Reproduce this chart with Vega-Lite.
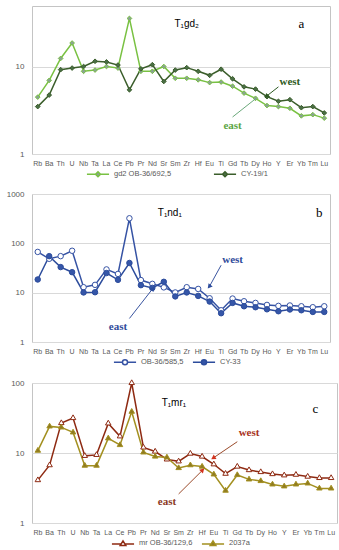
{
"$schema": "https://vega.github.io/schema/vega-lite/v6.json",
"padding": {"left": 5, "top": 5, "right": 5, "bottom": 2},
"spacing": 8,
"config": {
  "font": "Liberation Sans",
  "view": {"stroke": "#c4c4c4"},
  "axis": {"labelColor": "#595959", "labelFont": "Liberation Sans", "grid": false, "ticks": false, "domain": false},
  "legend": {"labelColor": "#595959", "labelFont": "Liberation Sans", "labelFontSize": 7.5, "orient": "bottom", "direction": "horizontal", "offset": 4, "symbolSize": 40, "symbolStrokeWidth": 1.5, "labelOffset": 12, "layout": {"bottom": {"anchor": "middle"}}}
},
"datasets": {
  "a": [
    {"e":"Rb","s":"gd2 OB-36/692,5","v":4.5},{"e":"Ba","s":"gd2 OB-36/692,5","v":7.0},{"e":"Th","s":"gd2 OB-36/692,5","v":12.5},{"e":"U","s":"gd2 OB-36/692,5","v":18.8},{"e":"Nb","s":"gd2 OB-36/692,5","v":8.9},{"e":"Ta","s":"gd2 OB-36/692,5","v":9.2},{"e":"La","s":"gd2 OB-36/692,5","v":10.1},{"e":"Ce","s":"gd2 OB-36/692,5","v":9.7},{"e":"Pb","s":"gd2 OB-36/692,5","v":36},{"e":"Pr","s":"gd2 OB-36/692,5","v":8.9},{"e":"Nd","s":"gd2 OB-36/692,5","v":8.9},{"e":"Sr","s":"gd2 OB-36/692,5","v":10.1},{"e":"Sm","s":"gd2 OB-36/692,5","v":7.4},{"e":"Zr","s":"gd2 OB-36/692,5","v":7.4},{"e":"Hf","s":"gd2 OB-36/692,5","v":7.1},{"e":"Eu","s":"gd2 OB-36/692,5","v":6.6},{"e":"Ti","s":"gd2 OB-36/692,5","v":6.7},{"e":"Gd","s":"gd2 OB-36/692,5","v":6.0},{"e":"Tb","s":"gd2 OB-36/692,5","v":5.0},{"e":"Dy","s":"gd2 OB-36/692,5","v":4.36},{"e":"Ho","s":"gd2 OB-36/692,5","v":3.6},{"e":"Y","s":"gd2 OB-36/692,5","v":3.5},{"e":"Er","s":"gd2 OB-36/692,5","v":3.35},{"e":"Yb","s":"gd2 OB-36/692,5","v":2.74},{"e":"Tm","s":"gd2 OB-36/692,5","v":2.83},{"e":"Lu","s":"gd2 OB-36/692,5","v":2.58},
    {"e":"Rb","s":"CY-19/1","v":3.5},{"e":"Ba","s":"CY-19/1","v":4.75},{"e":"Th","s":"CY-19/1","v":9.3},{"e":"U","s":"CY-19/1","v":9.7},{"e":"Nb","s":"CY-19/1","v":10.1},{"e":"Ta","s":"CY-19/1","v":11.6},{"e":"La","s":"CY-19/1","v":11.4},{"e":"Ce","s":"CY-19/1","v":10.5},{"e":"Pb","s":"CY-19/1","v":5.46},{"e":"Pr","s":"CY-19/1","v":9.5},{"e":"Nd","s":"CY-19/1","v":10.6},{"e":"Sr","s":"CY-19/1","v":6.8},{"e":"Sm","s":"CY-19/1","v":9.2},{"e":"Zr","s":"CY-19/1","v":9.8},{"e":"Hf","s":"CY-19/1","v":8.9},{"e":"Eu","s":"CY-19/1","v":8.0},{"e":"Ti","s":"CY-19/1","v":9.4},{"e":"Gd","s":"CY-19/1","v":7.3},{"e":"Tb","s":"CY-19/1","v":5.9},{"e":"Dy","s":"CY-19/1","v":5.56},{"e":"Ho","s":"CY-19/1","v":4.55},{"e":"Y","s":"CY-19/1","v":4.03},{"e":"Er","s":"CY-19/1","v":4.2},{"e":"Yb","s":"CY-19/1","v":3.4},{"e":"Tm","s":"CY-19/1","v":3.5},{"e":"Lu","s":"CY-19/1","v":2.96}
  ],
  "b": [
    {"e":"Rb","s":"OB-36/585,5","v":67},{"e":"Ba","s":"OB-36/585,5","v":48.6},{"e":"Th","s":"OB-36/585,5","v":55},{"e":"U","s":"OB-36/585,5","v":70.7},{"e":"Nb","s":"OB-36/585,5","v":12.9},{"e":"Ta","s":"OB-36/585,5","v":14.4},{"e":"La","s":"OB-36/585,5","v":29.6},{"e":"Ce","s":"OB-36/585,5","v":24},{"e":"Pb","s":"OB-36/585,5","v":322},{"e":"Pr","s":"OB-36/585,5","v":18},{"e":"Nd","s":"OB-36/585,5","v":15.1},{"e":"Sr","s":"OB-36/585,5","v":12.8},{"e":"Sm","s":"OB-36/585,5","v":10.1},{"e":"Zr","s":"OB-36/585,5","v":12.9},{"e":"Hf","s":"OB-36/585,5","v":11.9},{"e":"Eu","s":"OB-36/585,5","v":7.7},{"e":"Ti","s":"OB-36/585,5","v":4.4},{"e":"Gd","s":"OB-36/585,5","v":7.6},{"e":"Tb","s":"OB-36/585,5","v":6.7},{"e":"Dy","s":"OB-36/585,5","v":6.2},{"e":"Ho","s":"OB-36/585,5","v":5.65},{"e":"Y","s":"OB-36/585,5","v":5.4},{"e":"Er","s":"OB-36/585,5","v":5.5},{"e":"Yb","s":"OB-36/585,5","v":5.3},{"e":"Tm","s":"OB-36/585,5","v":5.07},{"e":"Lu","s":"OB-36/585,5","v":5.3},
    {"e":"Rb","s":"CY-33","v":18.5},{"e":"Ba","s":"CY-33","v":55},{"e":"Th","s":"CY-33","v":33},{"e":"U","s":"CY-33","v":26},{"e":"Nb","s":"CY-33","v":10.1},{"e":"Ta","s":"CY-33","v":10.2},{"e":"La","s":"CY-33","v":25},{"e":"Ce","s":"CY-33","v":18.2},{"e":"Pb","s":"CY-33","v":40},{"e":"Pr","s":"CY-33","v":14.2},{"e":"Nd","s":"CY-33","v":12.5},{"e":"Sr","s":"CY-33","v":16.6},{"e":"Sm","s":"CY-33","v":8.4},{"e":"Zr","s":"CY-33","v":10.1},{"e":"Hf","s":"CY-33","v":8.6},{"e":"Eu","s":"CY-33","v":6.6},{"e":"Ti","s":"CY-33","v":3.83},{"e":"Gd","s":"CY-33","v":6.2},{"e":"Tb","s":"CY-33","v":5.3},{"e":"Dy","s":"CY-33","v":5.07},{"e":"Ho","s":"CY-33","v":4.6},{"e":"Y","s":"CY-33","v":4.2},{"e":"Er","s":"CY-33","v":4.56},{"e":"Yb","s":"CY-33","v":4.4},{"e":"Tm","s":"CY-33","v":4.07},{"e":"Lu","s":"CY-33","v":4.07}
  ],
  "c": [
    {"e":"Rb","s":"mr OB-36/129,6","v":4.1},{"e":"Ba","s":"mr OB-36/129,6","v":6.7},{"e":"Th","s":"mr OB-36/129,6","v":26.8},{"e":"U","s":"mr OB-36/129,6","v":31.6},{"e":"Nb","s":"mr OB-36/129,6","v":9.1},{"e":"Ta","s":"mr OB-36/129,6","v":9.4},{"e":"La","s":"mr OB-36/129,6","v":26.5},{"e":"Ce","s":"mr OB-36/129,6","v":17.3},{"e":"Pb","s":"mr OB-36/129,6","v":100},{"e":"Pr","s":"mr OB-36/129,6","v":12},{"e":"Nd","s":"mr OB-36/129,6","v":10.5},{"e":"Sr","s":"mr OB-36/129,6","v":8.1},{"e":"Sm","s":"mr OB-36/129,6","v":7.6},{"e":"Zr","s":"mr OB-36/129,6","v":9.8},{"e":"Hf","s":"mr OB-36/129,6","v":8.9},{"e":"Eu","s":"mr OB-36/129,6","v":6.9},{"e":"Ti","s":"mr OB-36/129,6","v":5.06},{"e":"Gd","s":"mr OB-36/129,6","v":6.4},{"e":"Tb","s":"mr OB-36/129,6","v":5.7},{"e":"Dy","s":"mr OB-36/129,6","v":5.35},{"e":"Ho","s":"mr OB-36/129,6","v":5.0},{"e":"Y","s":"mr OB-36/129,6","v":4.8},{"e":"Er","s":"mr OB-36/129,6","v":4.9},{"e":"Yb","s":"mr OB-36/129,6","v":4.6},{"e":"Tm","s":"mr OB-36/129,6","v":4.4},{"e":"Lu","s":"mr OB-36/129,6","v":4.4},
    {"e":"Rb","s":"2037a","v":10.8},{"e":"Ba","s":"2037a","v":24},{"e":"Th","s":"2037a","v":23.2},{"e":"U","s":"2037a","v":19.7},{"e":"Nb","s":"2037a","v":6.6},{"e":"Ta","s":"2037a","v":6.6},{"e":"La","s":"2037a","v":16.2},{"e":"Ce","s":"2037a","v":13},{"e":"Pb","s":"2037a","v":38.9},{"e":"Pr","s":"2037a","v":10.2},{"e":"Nd","s":"2037a","v":8.9},{"e":"Sr","s":"2037a","v":8.65},{"e":"Sm","s":"2037a","v":6.1},{"e":"Zr","s":"2037a","v":6.7},{"e":"Hf","s":"2037a","v":6.4},{"e":"Eu","s":"2037a","v":4.95},{"e":"Ti","s":"2037a","v":2.9},{"e":"Gd","s":"2037a","v":4.85},{"e":"Tb","s":"2037a","v":4.2},{"e":"Dy","s":"2037a","v":3.98},{"e":"Ho","s":"2037a","v":3.56},{"e":"Y","s":"2037a","v":3.34},{"e":"Er","s":"2037a","v":3.56},{"e":"Yb","s":"2037a","v":3.68},{"e":"Tm","s":"2037a","v":3.12},{"e":"Lu","s":"2037a","v":3.12}
  ]
},
"resolve": {"scale": {"x": "independent", "y": "independent", "stroke": "independent", "fill": "independent"}, "legend": {"stroke": "independent", "fill": "independent"}},
"vconcat": [
{
  "width": 298, "height": 148,
  "encoding": {
    "x": {"field": "e", "type": "ordinal", "scale": {"domain": ["Rb","Ba","Th","U","Nb","Ta","La","Ce","Pb","Pr","Nd","Sr","Sm","Zr","Hf","Eu","Ti","Gd","Tb","Dy","Ho","Y","Er","Yb","Tm","Lu"]}, "axis": {"title": null, "labelAngle": 0, "labelPadding": 5, "labelFontSize": 7, "labelOverlap": false}},
    "y": {"field": "v", "type": "quantitative", "scale": {"type": "log", "domain": [1, 50], "nice": false}, "axis": {"title": null, "values": [1, 10], "format": "d", "grid": true, "gridColor": "#d9d9d9", "labelFontSize": 8, "labelPadding": 8}}
  },
  "layer": [
    {"data": {"name": "a"}, "mark": {"type": "line", "strokeWidth": 1.5},
     "encoding": {"stroke": {"field": "s", "type": "nominal", "scale": {"domain": ["gd2 OB-36/692,5", "CY-19/1"], "range": ["#79c142", "#3b5e2b"]},
       "legend": {"title": null, "symbolType": "M-3.5,0H-0.8M0.8,0H3.5M0,-0.8L0.8,0L0,0.8L-0.8,0Z", "columnPadding": 38}}}},
    {"data": {"name": "a"}, "mark": {"type": "point", "shape": "diamond", "size": 22, "filled": true, "opacity": 1, "strokeWidth": 1},
     "encoding": {
       "stroke": {"field": "s", "type": "nominal", "scale": {"domain": ["gd2 OB-36/692,5", "CY-19/1"], "range": ["#79c142", "#3b5e2b"]},
         "legend": {"title": null, "symbolType": "M-3.5,0H-0.8M0.8,0H3.5M0,-0.8L0.8,0L0,0.8L-0.8,0Z", "columnPadding": 38}},
       "fill": {"field": "s", "type": "nominal", "scale": {"domain": ["gd2 OB-36/692,5", "CY-19/1"], "range": ["#8aa294", "#4a6e46"]},
         "legend": {"title": null, "symbolType": "M-3.5,0H-0.8M0.8,0H3.5M0,-0.8L0.8,0L0,0.8L-0.8,0Z", "columnPadding": 38}}}},
    {"data": {"values": [{"t": "west", "e": "Y", "v": 5.9, "e2": "Ho", "v2": 4.65}, {"t": "east", "e": "Gd", "v": 2.66, "e2": "Dy", "v2": 4.3}]},
     "mark": {"type": "rule", "strokeWidth": 1},
     "encoding": {"x2": {"field": "e2"}, "y2": {"field": "v2"}, "color": {"condition": {"test": "datum.t === 'west'", "value": "#2e5a22"}, "value": "#6aa87a"}}},
    {"data": {"values": [{"t": "west", "e": "Ho", "v": 4.65}]},
     "mark": {"type": "point", "shape": "triangle", "filled": true, "size": 28, "opacity": 1, "color": "#2e5a22", "angle": 225}},
    {"data": {"values": [{"t": "west", "e": "Er", "v": 6.7}, {"t": "east", "e": "Gd", "v": 2.1}]},
     "mark": {"type": "text", "font": "Liberation Serif", "fontWeight": "bold", "fontSize": 11},
     "encoding": {"text": {"field": "t"}, "color": {"condition": {"test": "datum.t === 'west'", "value": "#2e5a22"}, "value": "#5aa544"}}},
    {"data": {"values": [{"t": "T₁gd₂", "e": "Zr", "v": 30.7}]},
     "mark": {"type": "text", "fontSize": 10, "color": "#000000"}, "encoding": {"text": {"field": "t"}}},
    {"data": {"values": [{"t": "a", "e": "Yb", "v": 30.7}]},
     "mark": {"type": "text", "font": "Liberation Serif", "fontSize": 13, "color": "#000000"}, "encoding": {"text": {"field": "t"}}}
  ]
},
{
  "width": 298, "height": 148,
  "encoding": {
    "x": {"field": "e", "type": "ordinal", "scale": {"domain": ["Rb","Ba","Th","U","Nb","Ta","La","Ce","Pb","Pr","Nd","Sr","Sm","Zr","Hf","Eu","Ti","Gd","Tb","Dy","Ho","Y","Er","Yb","Tm","Lu"]}, "axis": {"title": null, "labelAngle": 0, "labelPadding": 5, "labelFontSize": 7, "labelOverlap": false}},
    "y": {"field": "v", "type": "quantitative", "scale": {"type": "log", "domain": [1, 1000], "nice": false}, "axis": {"title": null, "values": [1, 10, 100, 1000], "format": "d", "grid": true, "gridColor": "#d9d9d9", "labelFontSize": 8, "labelPadding": 8}}
  },
  "layer": [
    {"data": {"name": "b"}, "mark": {"type": "line", "strokeWidth": 1.5},
     "encoding": {"stroke": {"field": "s", "type": "nominal", "scale": {"domain": ["OB-36/585,5", "CY-33"], "range": ["#3653a4", "#2c4c9c"]},
       "legend": {"title": null, "symbolType": "M-3.5,0H-0.8M0.8,0H3.5M-0.8,0A0.8,0.8 0 1,0 0.8,0A0.8,0.8 0 1,0 -0.8,0Z", "columnPadding": 5}}}},
    {"data": {"name": "b"}, "mark": {"type": "point", "shape": "circle", "size": 30, "filled": true, "opacity": 1, "strokeWidth": 1},
     "encoding": {
       "stroke": {"field": "s", "type": "nominal", "scale": {"domain": ["OB-36/585,5", "CY-33"], "range": ["#3653a4", "#2c4c9c"]},
         "legend": {"title": null, "symbolType": "M-3.5,0H-0.8M0.8,0H3.5M-0.8,0A0.8,0.8 0 1,0 0.8,0A0.8,0.8 0 1,0 -0.8,0Z", "columnPadding": 5}},
       "fill": {"field": "s", "type": "nominal", "scale": {"domain": ["OB-36/585,5", "CY-33"], "range": ["#ffffff", "#3556a8"]},
         "legend": {"title": null, "symbolType": "M-3.5,0H-0.8M0.8,0H3.5M-0.8,0A0.8,0.8 0 1,0 0.8,0A0.8,0.8 0 1,0 -0.8,0Z", "columnPadding": 5}}}},
    {"data": {"values": [{"t": "west", "e": "Ti", "v": 36, "e2": "Eu", "v2": 13.6}, {"t": "east", "e": "Pb", "v": 3.0, "e2": "Nd", "v2": 11.8}]},
     "mark": {"type": "rule", "strokeWidth": 1, "color": "#3a55a0"},
     "encoding": {"x2": {"field": "e2"}, "y2": {"field": "v2"}}},
    {"data": {"values": [{"t": "west", "e": "Eu", "v": 13.6}, {"t": "east", "e": "Nd", "v": 11.8}]},
     "mark": {"type": "point", "shape": "triangle", "filled": true, "size": 28, "opacity": 1, "color": "#2c4c9c"},
     "encoding": {"angle": {"condition": {"test": "datum.t === 'west'", "value": 219}, "value": 37}}},
    {"data": {"values": [{"t": "west", "e": "Gd", "v": 47}, {"t": "east", "e": "Ce", "v": 2.0}]},
     "mark": {"type": "text", "font": "Liberation Serif", "fontWeight": "bold", "fontSize": 11, "color": "#2f4b9a"},
     "encoding": {"text": {"field": "t"}}},
    {"data": {"values": [{"t": "T₁nd₁", "e": "Sr", "v": 413}]},
     "mark": {"type": "text", "fontSize": 10, "color": "#000000", "dx": 6}, "encoding": {"text": {"field": "t"}}},
    {"data": {"values": [{"t": "b", "e": "Lu", "v": 413}]},
     "mark": {"type": "text", "font": "Liberation Serif", "fontSize": 13, "color": "#000000", "dx": -5}, "encoding": {"text": {"field": "t"}}}
  ]
},
{
  "width": 305, "height": 140,
  "encoding": {
    "x": {"field": "e", "type": "ordinal", "scale": {"domain": ["Rb","Ba","Th","U","Nb","Ta","La","Ce","Pb","Pr","Nd","Sr","Sm","Zr","Hf","Eu","Ti","Gd","Tb","Dy","Ho","Y","Er","Yb","Tm","Lu"]}, "axis": {"title": null, "labelAngle": 0, "labelPadding": 5, "labelFontSize": 7, "labelOverlap": false}},
    "y": {"field": "v", "type": "quantitative", "scale": {"type": "log", "domain": [1, 100], "nice": false}, "axis": {"title": null, "values": [1, 10, 100], "format": "d", "grid": true, "gridColor": "#d9d9d9", "labelFontSize": 8, "labelPadding": 8}}
  },
  "layer": [
    {"data": {"name": "c"}, "mark": {"type": "line", "strokeWidth": 1.5},
     "encoding": {"stroke": {"field": "s", "type": "nominal", "scale": {"domain": ["mr OB-36/129,6", "2037a"], "range": ["#8e2a12", "#a39020"]},
       "legend": {"title": null, "symbolType": "M-3.5,0.2H-0.8M0.8,0.2H3.5M0,-0.8L0.9,0.7L-0.9,0.7Z", "columnPadding": 5}}}},
    {"data": {"name": "c"}, "mark": {"type": "point", "shape": "triangle", "size": 30, "filled": true, "opacity": 1, "strokeWidth": 1},
     "encoding": {
       "stroke": {"field": "s", "type": "nominal", "scale": {"domain": ["mr OB-36/129,6", "2037a"], "range": ["#8e2a12", "#a39020"]},
         "legend": {"title": null, "symbolType": "M-3.5,0.2H-0.8M0.8,0.2H3.5M0,-0.8L0.9,0.7L-0.9,0.7Z", "columnPadding": 5}},
       "fill": {"field": "s", "type": "nominal", "scale": {"domain": ["mr OB-36/129,6", "2037a"], "range": ["#ffffff", "#8f7a22"]},
         "legend": {"title": null, "symbolType": "M-3.5,0.2H-0.8M0.8,0.2H3.5M0,-0.8L0.9,0.7L-0.9,0.7Z", "columnPadding": 5}}}},
    {"data": {"values": [{"t": "west", "e": "Gd", "v": 14.5, "e2": "Eu", "v2": 8.6}, {"t": "east", "e": "Sm", "v": 2.6, "e2": "Hf", "v2": 5.6}]},
     "mark": {"type": "rule", "strokeWidth": 1, "color": "#9a4a2a"},
     "encoding": {"x2": {"field": "e2"}, "y2": {"field": "v2"}}},
    {"data": {"values": [{"t": "west", "e": "Eu", "v": 8.6}, {"t": "east", "e": "Hf", "v": 5.6}]},
     "mark": {"type": "point", "shape": "triangle", "filled": true, "size": 28, "opacity": 1, "color": "#d2321e"},
     "encoding": {"angle": {"condition": {"test": "datum.t === 'west'", "value": 238}, "value": 45}}},
    {"data": {"values": [{"t": "west", "e": "Tb", "v": 19}, {"t": "east", "e": "Sr", "v": 1.97}]},
     "mark": {"type": "text", "font": "Liberation Serif", "fontWeight": "bold", "fontSize": 11},
     "encoding": {"text": {"field": "t"}, "color": {"condition": {"test": "datum.t === 'west'", "value": "#a8321c"}, "value": "#8b3a1e"}}},
    {"data": {"values": [{"t": "T₁mr₁", "e": "Sr", "v": 52}]},
     "mark": {"type": "text", "fontSize": 10, "color": "#000000", "dx": 7}, "encoding": {"text": {"field": "t"}}},
    {"data": {"values": [{"t": "c", "e": "Tm", "v": 43}]},
     "mark": {"type": "text", "font": "Liberation Serif", "fontSize": 13, "color": "#000000", "dx": -4}, "encoding": {"text": {"field": "t"}}}
  ]
}
]
}
